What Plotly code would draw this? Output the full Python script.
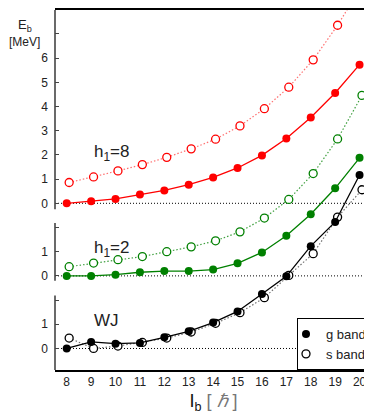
import plotly.graph_objects as go

# Spin values
spins = [8, 9, 10, 11, 12, 13, 14, 15, 16, 17, 18, 19, 20]

# h1 = 8 (red)
h8_g = [0.0, 0.08, 0.18, 0.36, 0.53, 0.77, 1.07, 1.46, 1.98, 2.68, 3.55, 4.56, 5.73]
h8_s = [0.86, 1.09, 1.34, 1.60, 1.90, 2.25, 2.65, 3.20, 3.91, 4.80, 5.93, 7.36, 9.0]
# h1 = 2 (green)
h2_g = [0.0, 0.0, 0.05, 0.15, 0.20, 0.20, 0.26, 0.52, 0.97, 1.66, 2.55, 3.62, 4.88]
h2_s = [0.38, 0.53, 0.67, 0.80, 1.00, 1.20, 1.45, 1.82, 2.39, 3.16, 4.23, 5.66, 7.46]
# WJ (black)
wj_g = [0.0, 0.27, 0.20, 0.23, 0.46, 0.71, 1.07, 1.53, 2.25, 2.98, 4.23, 5.23, 7.17]
wj_s = [0.43, 0.0, 0.10, 0.25, 0.43, 0.68, 1.04, 1.48, 2.10, 3.02, 3.92, 5.43, 6.56]

panel_labels = ["h<sub>1</sub>=8", "h<sub>1</sub>=2", "WJ"]
panel_offsets = [6, 3, 0]
panel_label_y = [2.09, 1.11, 1.16]
panel_colors = ["#ff0000", "#008000", "#000000"]
panel_dot_colors = ["#ff7070", "#40a040", "#707070"]

ytick_vals = list(range(0, 14))
ytick_text = ["0", "1", "", "0", "1", "", "0", "1", "2", "3", "4", "5", "6", ""]

FONT = "Liberation Sans"
S_SHIFT = 0.1

fig = go.Figure()

series = [(h8_g, h8_s), (h2_g, h2_s), (wj_g, wj_s)]
for (g, s), off, col, dcol in zip(series, panel_offsets, panel_colors, panel_dot_colors):
    fig.add_trace(go.Scatter(
        x=[x + S_SHIFT for x in spins], y=[v + off for v in s], mode="lines+markers",
        line=dict(color=dcol, width=1.2, dash="1.5px,2px"),
        marker=dict(symbol="circle", size=8, color="white", line=dict(color=col, width=1.3)),
        showlegend=False, hoverinfo="skip"))
    fig.add_trace(go.Scatter(
        x=spins, y=[v + off for v in g], mode="lines+markers",
        line=dict(color=col, width=1.3),
        marker=dict(symbol="circle", size=8, color=col),
        showlegend=False, hoverinfo="skip"))

# legend entries
fig.add_trace(go.Scatter(x=[None], y=[None], mode="markers", name="g band",
                         marker=dict(symbol="circle", size=8, color="black")))
fig.add_trace(go.Scatter(x=[None], y=[None], mode="markers", name="s band",
                         marker=dict(symbol="circle", size=8, color="white",
                                     line=dict(color="black", width=1.3))))

# zero reference lines
for off in panel_offsets:
    fig.add_shape(type="line", xref="paper", yref="y", x0=0, x1=1, y0=off, y1=off,
                  line=dict(color="black", width=1, dash="1px,2px"), layer="below")

# segmented left axis
for y0, y1 in [(-0.89, 2.19), (2.8, 5.19), (5.75, 13.99)]:
    fig.add_shape(type="line", xref="paper", yref="y", x0=0, x1=0, y0=y0, y1=y1,
                  line=dict(color="#444444", width=1.6))

for lab, off, ly in zip(panel_labels, panel_offsets, panel_label_y):
    fig.add_annotation(x=9.04, y=off + ly, xref="x", yref="y", text=lab, showarrow=False,
                       xanchor="left", yanchor="middle", font=dict(size=17, color="#222", family=FONT))

fig.add_annotation(x=-0.095, y=13.35, xref="paper", yref="y", text="E<sub>b</sub>", showarrow=False,
                   xanchor="center", yanchor="middle", font=dict(size=13, color="#222", family=FONT))
fig.add_annotation(x=-0.095, y=12.65, xref="paper", yref="y", text="[MeV]", showarrow=False,
                   xanchor="center", yanchor="middle", font=dict(size=12, color="#222", family=FONT))

fig.update_layout(
    width=364, height=408,
    margin=dict(l=47, r=0, t=0, b=46),
    paper_bgcolor="white", plot_bgcolor="white",
    font=dict(family=FONT, color="#222", size=12),
    showlegend=True,
    legend=dict(x=1, xanchor="right", y=0, yanchor="bottom", bgcolor="white",
                bordercolor="black", borderwidth=1, font=dict(size=13, color="#222"),
                itemwidth=30, tracegroupgap=0, indentation=-12),
    xaxis=dict(range=[7.52, 20.51], tickvals=spins, showgrid=False, zeroline=False,
               showline=True, linecolor="black", linewidth=1.6, mirror=True, ticks="",
               tickfont=dict(size=12),
               title=dict(text="I<sub>b</sub> <span style='color:#777'>[ <i>ℏ</i> ]</span>",
                          font=dict(size=18, color="#111"), standoff=6)),
    yaxis=dict(range=[-0.89, 13.99], tickvals=ytick_vals, ticktext=ytick_text,
               showgrid=False, zeroline=False, showline=False, ticks="inside", ticklen=4,
               tickcolor="#444", tickwidth=1.2, mirror="ticks", ticklabelstandoff=6,
               tickfont=dict(size=12)),
)

fig.write_html("out.html")
